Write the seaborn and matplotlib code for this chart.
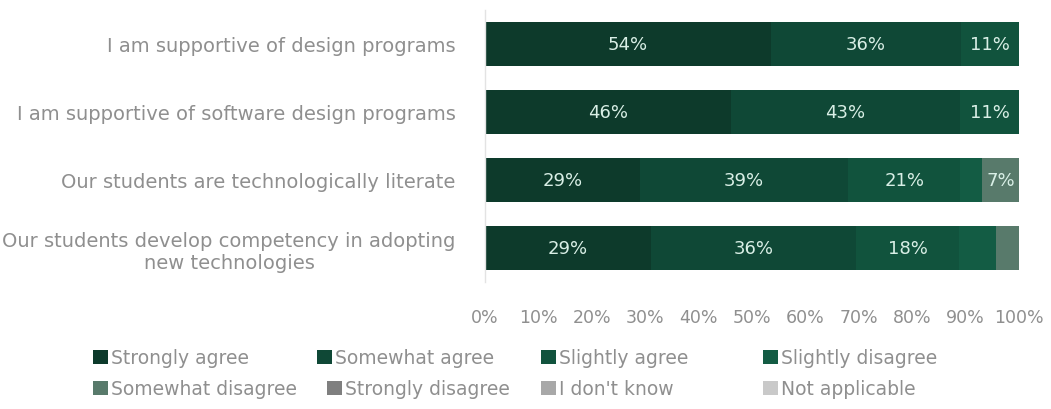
import matplotlib
matplotlib.use("Agg")
import matplotlib.pyplot as plt
from matplotlib.patches import Patch
import seaborn as sns
import pandas as pd
import numpy as np

statements = [
    "I am supportive of design programs",
    "I am supportive of software design programs",
    "Our students are technologically literate",
    "Our students develop competency in adopting\nnew technologies",
]
responses = [
    "Strongly agree", "Somewhat agree", "Slightly agree", "Slightly disagree",
    "Somewhat disagree", "Strongly disagree", "I don't know", "Not applicable",
]
colors = ["#0d3a2b", "#0f4836", "#11533d", "#135c44",
          "#587a6b", "#7f7f7f", "#a8a8a8", "#c9c9c9"]

# percentage of respondents per statement, one list per response
strongly_agree = [54, 46, 29, 29]
somewhat_agree = [36, 43, 39, 36]
slightly_agree = [11, 11, 21, 18]
slightly_disagree = [0, 0, 4, 6.5]
somewhat_disagree = [0, 0, 7, 4]
strongly_disagree = [0, 0, 0, 0]
dont_know = [0, 0, 0, 0]
not_applicable = [0, 0, 0, 0]

values = np.array([strongly_agree, somewhat_agree, slightly_agree, slightly_disagree,
                   somewhat_disagree, strongly_disagree, dont_know, not_applicable],
                  dtype=float)
# rounded answers may not add to exactly 100, so scale each row to its total
shares = values / values.sum(axis=0) * 100
cum = np.cumsum(shares, axis=0)

rows = []
for i, r in enumerate(responses):
    for j, s in enumerate(statements):
        rows.append({"statement": s, "response": r, "value": values[i, j],
                     "share": shares[i, j], "end": cum[i, j]})
df = pd.DataFrame(rows)

sns.set_theme(style="white")
plt.rcParams["font.family"] = ["DejaVu Sans"]

grey = "#8f8f8f"
fig = plt.figure(figsize=(10.51, 4.10), dpi=100)
ax = fig.add_axes([0.4615, 0.3098, 0.5081, 0.6634])

# stacked bars: draw the cumulative totals from the last response backwards
for r, c in reversed(list(zip(responses, colors))):
    sub = df[df["response"] == r]
    sns.barplot(data=sub, x="end", y="statement", order=statements, orient="h",
                color=c, width=0.66, saturation=1, ax=ax, linewidth=0)

for _, row in df.iterrows():
    if row["value"] >= 7:
        j = statements.index(row["statement"])
        ax.text(row["end"] - row["share"] / 2, j, f"{row['value']:.0f}%",
                ha="center", va="center", color="#d9efe6", fontsize=13)

ax.set_xlim(0, 100)
ax.set_ylim(3.5, -0.5)
ax.set_xticks(np.arange(0, 101, 10))
ax.set_xticklabels([f"{t}%" for t in range(0, 101, 10)])
ax.set_xlabel("")
ax.set_ylabel("")
ax.tick_params(axis="x", length=0, pad=19, labelsize=12.5, labelcolor=grey)
ax.tick_params(axis="y", length=0, pad=21, labelsize=14, labelcolor=grey)
for lab in ax.get_yticklabels():
    lab.set_multialignment("center")
    lab.set_linespacing(1.2)
for side in ["top", "right", "bottom"]:
    ax.spines[side].set_visible(False)
ax.spines["left"].set_color("#e3e3e3")
ax.spines["left"].set_linewidth(1)

# legend entries laid out in two rows
legend_pos = [(93, 359), (317, 359), (541, 359), (763, 359),
              (93, 390), (327, 390), (541, 390), (763, 390)]
for (px, py), r, c in zip(legend_pos, responses, colors):
    leg = fig.legend(handles=[Patch(facecolor=c, edgecolor="none")], labels=[r],
                     loc="center left", bbox_to_anchor=(px / 1051, 1 - py / 410),
                     frameon=False, fontsize=13.5, handlelength=0.8,
                     handleheight=0.8, handletextpad=0.15, borderpad=0,
                     borderaxespad=0)
    for t in leg.get_texts():
        t.set_color(grey)

fig.savefig("out.png", dpi=100)
